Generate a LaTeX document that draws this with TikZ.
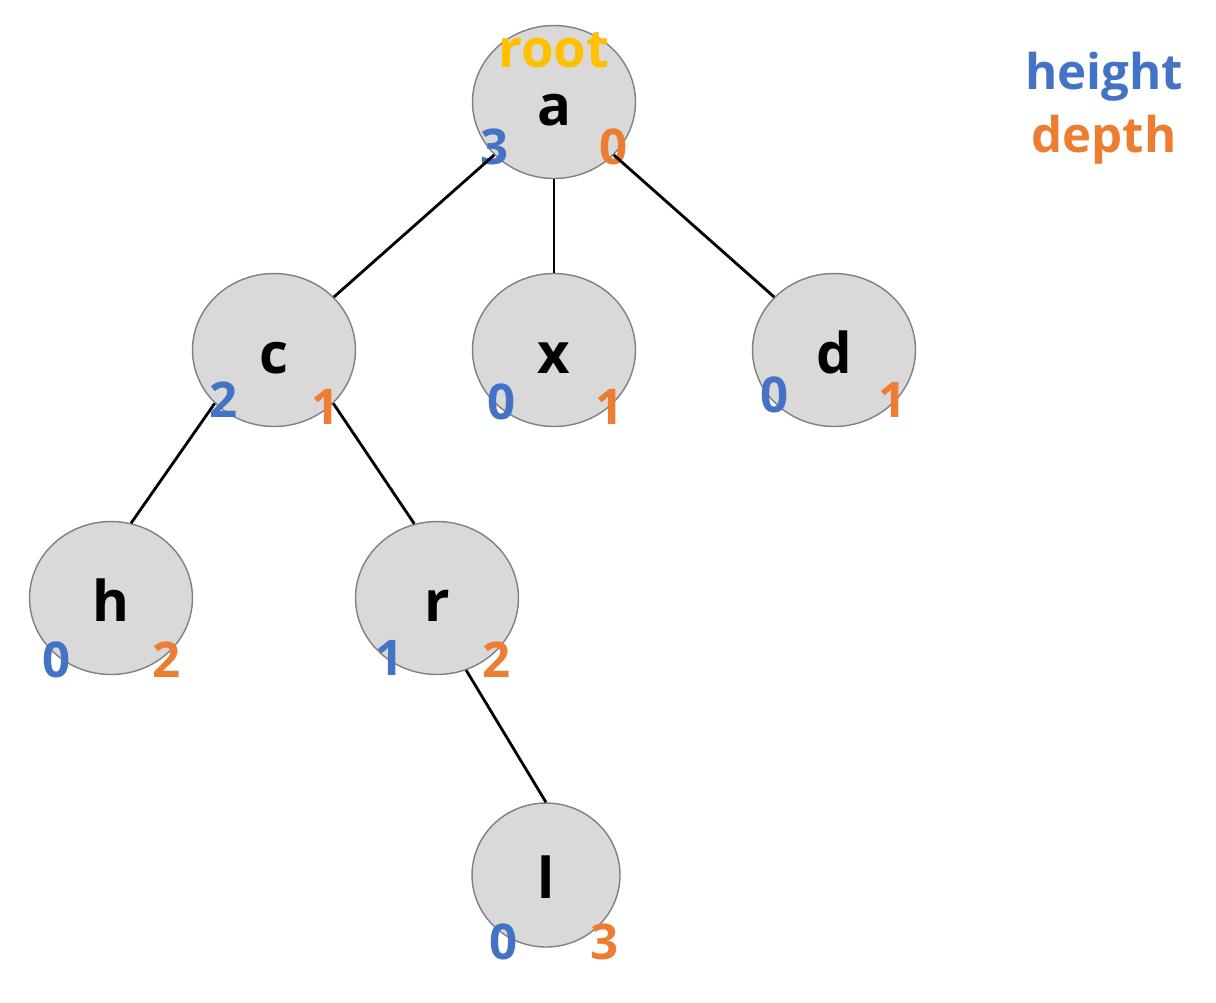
\documentclass[tikz,border=0pt]{standalone}
\usepackage{fontspec}
\setmainfont{Open Sans}
\usepackage{tikz}
\usetikzlibrary{arrows.meta,calc,positioning,shapes.geometric}
\definecolor{trgray}{HTML}{D9D9D9}
\definecolor{trline}{HTML}{808080}
\definecolor{trblue}{HTML}{4472C4}
\definecolor{trorange}{HTML}{ED7D31}
\definecolor{trgold}{HTML}{FFC000}

\begin{document}
\begin{tikzpicture}[
  x=0.02cm, y=-0.02cm,
  vertex/.style={ellipse, draw=trline, line width=0.8pt, fill=trgray, inner sep=0pt,
    minimum width=3.26cm, minimum height=3.06cm, text height=0.92cm, text depth=0cm,
    font=\bfseries\fontsize{32}{36}\selectfont},
  small/.style={vertex, minimum width=2.96cm, minimum height=2.88cm},
  hnum/.style={text=trblue, inner sep=0pt, font=\bfseries\fontsize{28}{32}\selectfont},
  dnum/.style={text=trorange, inner sep=0pt, font=\bfseries\fontsize{28}{32}\selectfont},
  edge/.style={line width=1.6pt, black}
]
\useasboundingbox (0,0) rectangle (1216,1002);

% tree nodes
\node[vertex] (a) at (554,102) {a};
\node[vertex] (c) at (274,350) {c};
\node[vertex] (x) at (554,350) {x};
\node[vertex] (d) at (834,350) {d};
\node[vertex] (h) at (111,598) {h};
\node[vertex] (r) at (437,598) {r};
\node[small] (l) at (546,875) {l};

\node[text=trgold, inner sep=0pt, font=\bfseries\fontsize{30}{34}\selectfont] (root) at (554,50) {root};

% height / depth numbers
\node[hnum] (a-ht) at (495,147) {3};
\node[dnum] (a-dp) at (614,147) {0};
\node[hnum] (c-ht) at (224,400) {2};
\node[dnum] (c-dp) at (326,407) {1};
\node[hnum] (x-ht) at (502,402) {0};
\node[dnum] (x-dp) at (610,407) {1};
\node[hnum] (d-ht) at (775,395) {0};
\node[dnum] (d-dp) at (893,400) {1};
\node[hnum] (h-ht) at (57,660) {0};
\node[dnum] (h-dp) at (167,660) {2};
\node[hnum] (r-ht) at (390,658) {1};
\node[dnum] (r-dp) at (497,660) {2};
\node[hnum] (l-ht) at (504,942) {0};
\node[dnum] (l-dp) at (605,942) {3};

% legend
\node[hnum] (legh) at (1104,77) {height};
\node[dnum] (legd) at (1104,140) {depth};

\draw[edge] (a) -- (c);
\draw[edge] (a.south) -- (x.north);
\draw[edge] (a) -- (d);
\draw[edge] (c.222) -- (h.75);
\draw[edge] (c.318) -- (r.107);
\draw[edge] (r.292) -- (l.north);
\end{tikzpicture}
\end{document}
